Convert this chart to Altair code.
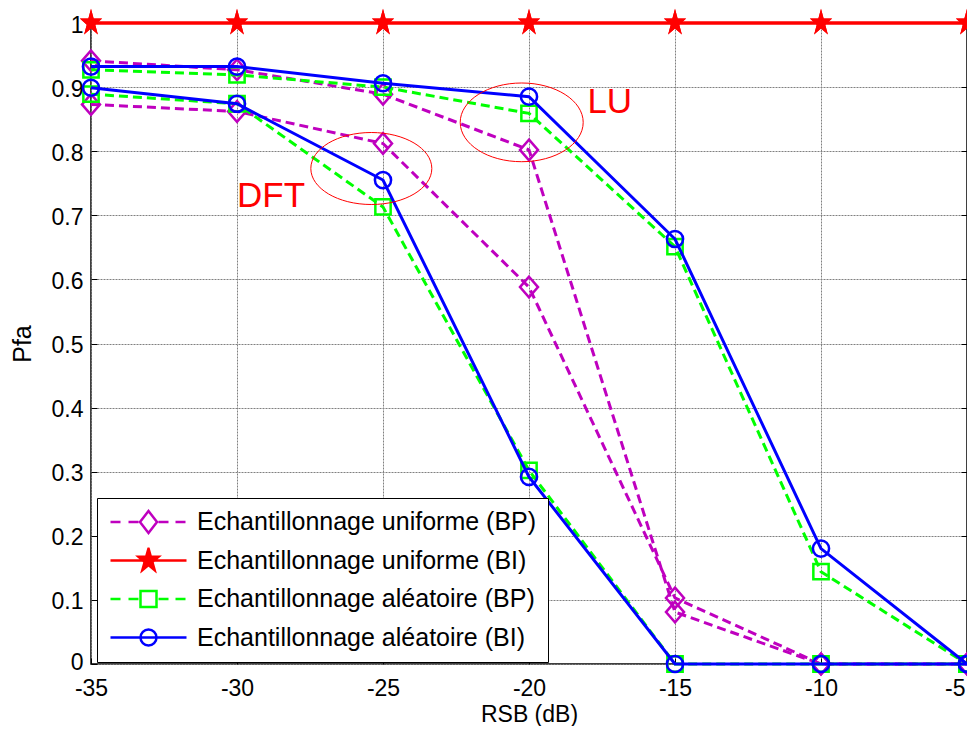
import math
import altair as alt
import pandas as pd

# ---------------- data ----------------
snr = [-35, -30, -25, -20, -15, -10, -5]

series_names = [
    "Echantillonnage uniforme (BP)",
    "Echantillonnage uniforme (BI)",
    "Echantillonnage aléatoire (BP)",
    "Echantillonnage aléatoire (BI)",
]
series_colors = ["#BF00BF", "#FF0000", "#00FF00", "#0000FF"]

# Echantillonnage uniforme (BP) - two curves (LU / DFT)
uni_bp_lu = [0.941, 0.927, 0.889, 0.802, 0.081, 0.0, 0.0]
uni_bp_dft = [0.873, 0.862, 0.812, 0.588, 0.103, 0.0, 0.0]
# Echantillonnage uniforme (BI)
uni_bi_lu = [1.0, 1.0, 1.0, 1.0, 1.0, 1.0, 1.0]
uni_bi_dft = [1.0, 1.0, 1.0, 1.0, 1.0, 1.0, 1.0]
# Echantillonnage aléatoire (BP)
alea_bp_lu = [0.927, 0.919, 0.900, 0.859, 0.651, 0.144, 0.0]
alea_bp_dft = [0.889, 0.874, 0.713, 0.302, 0.0, 0.0, 0.0]
# Echantillonnage aléatoire (BI)
alea_bi_lu = [0.932, 0.932, 0.906, 0.885, 0.663, 0.180, 0.0]
alea_bi_dft = [0.899, 0.874, 0.755, 0.292, 0.0, 0.0, 0.0]

x_ticks = [-35, -30, -25, -20, -15, -10, -5]
y_ticks = [0, 0.1, 0.2, 0.3, 0.4, 0.5, 0.6, 0.7, 0.8, 0.9, 1]

# annotations
ann_text = ["DFT", "LU"]
ann_text_x = [-30.0, -18.0]
ann_text_y = [0.713, 0.860]
ell_dft = {"x": [-25.4], "y": [0.773], "s": [14641]}
ell_lu = {"x": [-20.25], "y": [0.845], "s": [15129]}

curves = [
    (series_names[0], "LU", uni_bp_lu), (series_names[0], "DFT", uni_bp_dft),
    (series_names[1], "LU", uni_bi_lu), (series_names[1], "DFT", uni_bi_dft),
    (series_names[2], "LU", alea_bp_lu), (series_names[2], "DFT", alea_bp_dft),
    (series_names[3], "LU", alea_bi_lu), (series_names[3], "DFT", alea_bi_dft),
]
rows = []
for name, cname, vals in curves:
    for xv, yv in zip(snr, vals):
        rows.append({"x": xv, "y": yv, "series": name, "curve": name + " " + cname})
df = pd.DataFrame(rows)

ann_df = pd.DataFrame({"t": ann_text, "x": ann_text_x, "y": ann_text_y})

# ---------------- marker shapes ----------------
def f(v):
    return f"{v:.3f}"

def diamond_path(w, h, cx=0.0):
    return f"M {f(cx)} {f(-h)} L {f(cx + w)} 0 L {f(cx)} {f(h)} L {f(cx - w)} 0 Z"

def square_path(a, cx=0.0):
    return f"M {f(cx - a)} {f(-a)} L {f(cx + a)} {f(-a)} L {f(cx + a)} {f(a)} L {f(cx - a)} {f(a)} Z"

def ellipse_path(rx, ry, cx=0.0):
    k = 0.5523
    return (f"M {f(cx + rx)} 0 C {f(cx + rx)} {f(k * ry)} {f(cx + k * rx)} {f(ry)} {f(cx)} {f(ry)} "
            f"C {f(cx - k * rx)} {f(ry)} {f(cx - rx)} {f(k * ry)} {f(cx - rx)} 0 "
            f"C {f(cx - rx)} {f(-k * ry)} {f(cx - k * rx)} {f(-ry)} {f(cx)} {f(-ry)} "
            f"C {f(cx + k * rx)} {f(-ry)} {f(cx + rx)} {f(-k * ry)} {f(cx + rx)} 0 Z")

def star_path(R, sy, cx=0.0):
    pts = []
    for i in range(10):
        ang = math.radians(-90 + 36 * i)
        r = R if i % 2 == 0 else R * 0.382
        pts.append((cx + r * math.cos(ang), r * math.sin(ang) * sy))
    return "M " + " L ".join(f"{f(px)} {f(py)}" for px, py in pts) + " Z"

def segs(pairs):
    return " ".join(f"M {f(a)} 0 L {f(b)} 0" for a, b in pairs)

plot_markers = [
    diamond_path(1.0, 1.15),
    star_path(1.3, 1.22),
    square_path(0.85),
    ellipse_path(0.9, 0.9),
]
plot_filled = [False, True, False, False]

CX = 2.8
dash_segs = [(CX - 3.8, CX - 2.8), (CX - 2.0, CX - 1.0), (CX + 1.0, CX + 2.0), (CX + 2.7, CX + 3.7)]
solid_segs = [(CX - 3.8, CX + 3.8)]
legend_paths = [
    segs(dash_segs) + " " + diamond_path(0.85, 1.1, CX),
    segs(solid_segs) + " " + star_path(1.05, 1.15, CX),
    segs(dash_segs) + " " + square_path(0.8, CX),
    segs(solid_segs) + " " + ellipse_path(0.8, 0.8, CX),
]
legend_fills = ["transparent", "#FF0000", "transparent", "transparent"]
dashes = [[9, 5], None, [9, 5], None]

FONT = "Liberation Sans"
W, H = 876, 641

x_scale = alt.Scale(domain=[-35, -5], nice=False, zero=False)
y_scale = alt.Scale(domain=[0, 1], nice=False, zero=False)

x_axis = alt.Axis(
    values=x_ticks, labelExpr="'' + datum.value", title="RSB (dB)",
    grid=True, domain=False, ticks=False, labelPadding=13, labelFlush=False,
    labelAlign={"condition": {"test": "datum.value == -5", "value": "right"}, "value": "center"},
    labelOffset={"condition": {"test": "datum.value == -5", "value": -2}, "value": 0},
    titleBaseline="alphabetic", titleY=57, titleFontSize=23,
)
y_axis = alt.Axis(
    values=y_ticks, labelExpr="'' + datum.value", title="Pfa",
    grid=True, domain=False, ticks=False, labelPadding=8, labelFlush=False,
    labelOffset={"condition": {"test": "datum.value == 0", "value": -2}, "value": 2},
    titleBaseline="alphabetic", titleX=-61, titleFontSize=25,
)

def X(axis=None):
    if axis is None:
        return alt.X("x:Q", scale=x_scale)
    return alt.X("x:Q", scale=x_scale, axis=axis)

def Y(axis=None):
    if axis is None:
        return alt.Y("y:Q", scale=y_scale)
    return alt.Y("y:Q", scale=y_scale, axis=axis)

base = alt.Chart(df)

layers = []
# grid / axes carrier
layers.append(base.transform_filter("false").mark_point(opacity=0).encode(x=X(x_axis), y=Y(y_axis)))

for name, col, dash, mk, filled in zip(series_names, series_colors, dashes, plot_markers, plot_filled):
    d = base.transform_filter(alt.datum.series == name)
    lkw = dict(color=col, strokeWidth=3)
    if dash is not None:
        lkw["strokeDash"] = dash
    layers.append(d.mark_line(**lkw).encode(x=X(), y=Y(), detail="curve:N", order="x:Q"))
    layers.append(d.mark_point(shape=mk, size=324, filled=filled, color=col, strokeWidth=2.5,
                               opacity=1).encode(x=X(), y=Y()))

# annotations
for ell, q in ((ell_dft, 0.595), (ell_lu, 0.64)):
    layers.append(alt.Chart(pd.DataFrame(ell)).mark_point(
        shape=ellipse_path(1.0, q), color="#FF0000", strokeWidth=1, opacity=1, filled=False
    ).encode(x=X(), y=Y(), size=alt.Size("s:Q", scale=None)))
layers.append(alt.Chart(ann_df).mark_text(align="left", baseline="alphabetic", font=FONT,
                                          fontSize=35, color="#FF0000").encode(
    x=X(), y=Y(), text="t:N"))

# legend carrier
leg = alt.Legend(
    title=None, orient="none", legendX=6, legendY=475, direction="vertical",
    fillColor="white", strokeColor="black", padding=11, rowPadding=12.5, clipHeight=26,
    labelFont=FONT, labelFontSize=25, labelColor="black", labelLimit=600,
    labelOffset=64, symbolSize=400, symbolStrokeWidth=2.5,
)
layers.append(base.transform_filter("false").mark_point(filled=False, opacity=1, strokeWidth=2.5).encode(
    x=X(), y=Y(),
    color=alt.Color("series:N", scale=alt.Scale(domain=series_names, range=series_colors), legend=leg),
    fill=alt.Fill("series:N", scale=alt.Scale(domain=series_names, range=legend_fills), legend=leg),
    shape=alt.Shape("series:N", scale=alt.Scale(domain=series_names, range=legend_paths), legend=leg),
))

inner = alt.layer(*layers)

def tick_axis(orient, values, offset):
    return alt.Axis(orient=orient, values=values, labels=False, grid=False, domain=False,
                    title=None, ticks=True, tickSize=6, offset=offset)

empty = base.transform_filter("false").mark_point(opacity=0)
left_ticks = empty.encode(y=alt.Y("y:Q", scale=y_scale, axis=tick_axis("right", y_ticks, -W)))
right_ticks = empty.encode(y=alt.Y("y:Q", scale=y_scale, axis=tick_axis("left", y_ticks, -W)))
bottom_ticks = empty.encode(x=alt.X("x:Q", scale=x_scale, axis=tick_axis("top", x_ticks, -H)))

chart = alt.layer(inner, left_ticks, right_ticks, bottom_ticks).resolve_axis(
    x="independent", y="independent"
).properties(
    width=W, height=H,
    padding={"left": 83, "top": 15, "right": 0, "bottom": 62},
    autosize=alt.AutoSizeParams(type="none"),
    background="white",
).configure_view(
    stroke="black", strokeWidth=1.5
).configure_axis(
    labelFont=FONT, labelFontSize=23, labelColor="black",
    titleFont=FONT, titleFontSize=24, titleFontWeight="normal", titleColor="black",
    gridColor="#808080", gridDash=[2, 1], gridWidth=1, gridOpacity=1,
    tickColor="black", tickWidth=1,
)

chart.save("out.html", embed_options={"renderer": "svg", "actions": False})
